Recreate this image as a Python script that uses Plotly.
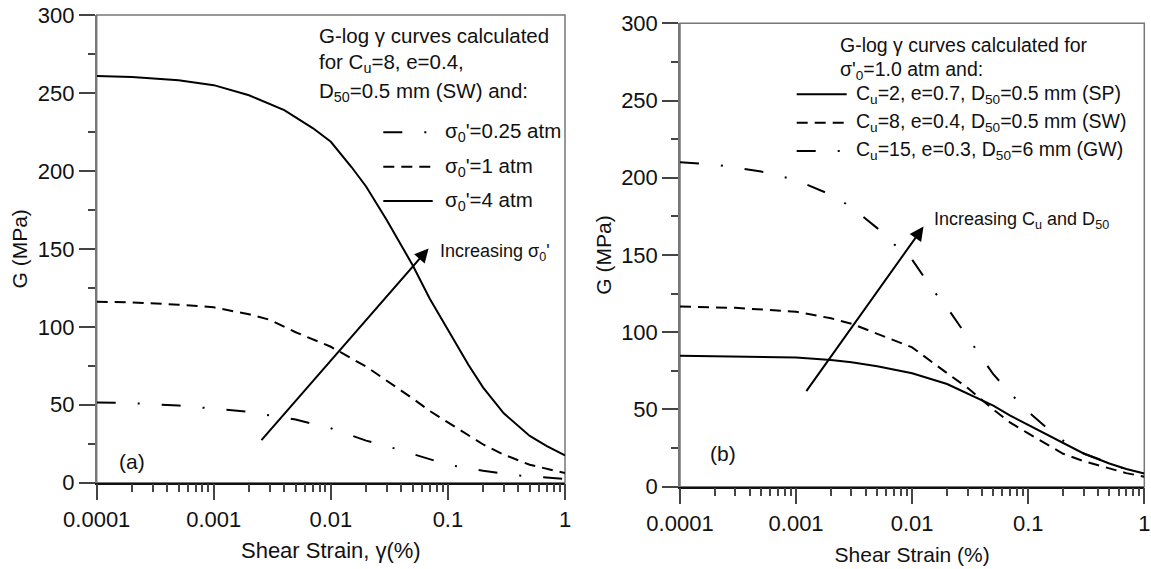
import math
import plotly.graph_objects as go

W, H = 1151, 569
FONT = "Liberation Sans, Arial, sans-serif"

# ---------------- data: panel (a) ----------------
strain_a4 = [0.0001, 0.0002, 0.0005, 0.001, 0.002, 0.004, 0.007, 0.01, 0.015, 0.02,
             0.03, 0.05, 0.07, 0.1, 0.15, 0.2, 0.3, 0.5, 0.7, 1]
G_a4 = [260.9, 260.2, 258.2, 255, 248.5, 239, 227.5, 218.7, 202.5, 190,
        168.5, 139.5, 118, 98, 75.5, 61, 44.5, 30, 23.5, 17.5]

strain_a1 = [0.0001, 0.0002, 0.0005, 0.001, 0.002, 0.003, 0.005, 0.01, 0.02, 0.03,
             0.05, 0.07, 0.1, 0.2, 0.3, 0.5, 1]
G_a1 = [116.1, 115.6, 114.2, 112.5, 108, 104.5, 96.5, 87.2, 74.5, 65.5,
        54, 46, 38.5, 24.5, 18, 11.5, 6.2]

strain_a025 = [0.0001, 0.0002, 0.0005, 0.001, 0.002, 0.003, 0.005, 0.01, 0.02, 0.035,
               0.05, 0.1, 0.2, 0.4, 1]
G_a025 = [51.5, 51, 49.5, 47.7, 45.5, 43.2, 40.5, 34.9, 27, 22,
          18.5, 11.5, 7.6, 4.6, 2.4]

# ---------------- data: panel (b) ----------------
strain_sp = [0.0001, 0.0003, 0.001, 0.002, 0.003, 0.005, 0.01, 0.02, 0.03, 0.05,
             0.07, 0.1, 0.2, 0.3, 0.5, 0.7, 1]
G_sp = [84.8, 84.5, 83.7, 82, 80.5, 78, 73.4, 66.5, 60.5, 52.5,
        46, 40, 28, 21.5, 15, 11.5, 8.6]

strain_sw = [0.0001, 0.0003, 0.001, 0.002, 0.003, 0.005, 0.01, 0.02, 0.03, 0.05,
             0.07, 0.1, 0.2, 0.3, 0.5, 0.7, 1]
G_sw = [116.6, 115.8, 113.3, 109, 105.5, 99, 90.2, 73.5, 64, 50,
        41.5, 34.5, 21.3, 16.5, 11.8, 8.8, 6.5]

strain_gw = [0.0001, 0.0002, 0.0005, 0.001, 0.002, 0.003, 0.005, 0.007, 0.01, 0.015,
             0.02, 0.03, 0.05, 0.07, 0.1, 0.15, 0.2, 0.3, 0.5, 0.7, 1]
G_gw = [210, 208.5, 204, 198.5, 189, 181, 167.4, 157, 147, 127.6,
        116, 97, 72.8, 60.5, 48.5, 37, 29.8, 21.5, 15, 11.2, 9]

# arrows (strain, G) tail -> head
arrow_a = [(0.00249, 26.3), (0.0684, 150.3)]
arrow_b = [(0.0012, 60.9), (0.01253, 168.4)]

x_tickvals = [0.0001, 0.001, 0.01, 0.1, 1]
x_ticktext = ["0.0001", "0.001", "0.01", "0.1", "1"]

DASH = "11px,7px"
DASHDOT = "19px,22px,2px,22px"

labels_a = ["σ<sub>0</sub>'=0.25 atm", "σ<sub>0</sub>'=1 atm", "σ<sub>0</sub>'=4 atm"]
labels_b = ["C<sub>u</sub>=2, e=0.7, D<sub>50</sub>=0.5 mm (SP)",
            "C<sub>u</sub>=8, e=0.4, D<sub>50</sub>=0.5 mm (SW)",
            "C<sub>u</sub>=15, e=0.3, D<sub>50</sub>=6 mm (GW)"]

fig = go.Figure()
line_kw = dict(color="black", width=2)
fig.add_trace(go.Scatter(x=strain_a025, y=G_a025, mode="lines", line=dict(**line_kw, dash=DASHDOT),
                         name=labels_a[0], xaxis="x", yaxis="y", showlegend=False))
fig.add_trace(go.Scatter(x=strain_a1, y=G_a1, mode="lines", line=dict(**line_kw, dash=DASH),
                         name=labels_a[1], xaxis="x", yaxis="y", showlegend=False))
fig.add_trace(go.Scatter(x=strain_a4, y=G_a4, mode="lines", line=dict(**line_kw),
                         name=labels_a[2], xaxis="x", yaxis="y", showlegend=False))
fig.add_trace(go.Scatter(x=strain_sp, y=G_sp, mode="lines", line=dict(**line_kw),
                         name=labels_b[0], xaxis="x2", yaxis="y2", showlegend=False))
fig.add_trace(go.Scatter(x=strain_sw, y=G_sw, mode="lines", line=dict(**line_kw, dash=DASH),
                         name=labels_b[1], xaxis="x2", yaxis="y2", showlegend=False))
fig.add_trace(go.Scatter(x=strain_gw, y=G_gw, mode="lines", line=dict(**line_kw, dash=DASHDOT),
                         name=labels_b[2], xaxis="x2", yaxis="y2", showlegend=False))


def px(x):
    return x / W


def py(y):
    return 1 - y / H


def xaxis_cfg(domain, anchor, title, tsize):
    return dict(
        type="log", range=[-4, 0], domain=domain, anchor=anchor, automargin=False,
        tickmode="array", tickvals=x_tickvals, ticktext=x_ticktext,
        ticks="outside", ticklen=16, tickwidth=1.5, tickcolor="#444",
        showline=True, linecolor="#111", linewidth=1.5, showgrid=False, zeroline=False,
        minor=dict(ticks="outside", ticklen=8, tickwidth=1.5, tickcolor="#444",
                   dtick="D1", showgrid=False),
        tickfont=dict(size=22, color="#111", family=FONT),
        title=dict(text=title, font=dict(size=tsize, color="#111", family=FONT), standoff=12),
    )


def yaxis_cfg(domain, anchor):
    return dict(
        range=[0, 300], domain=domain, anchor=anchor, dtick=50, automargin=False,
        ticks="outside", ticklen=16, tickwidth=1.5, tickcolor="#444",
        showline=True, linecolor="#777", linewidth=1.5, showgrid=False, zeroline=False,
        minor=dict(ticks="outside", ticklen=7, tickwidth=1.5, tickcolor="#444",
                   dtick=25, showgrid=False),
        tickfont=dict(size=22, color="#111", family=FONT),
        title=dict(text="G (MPa)", font=dict(size=21, color="#111", family=FONT), standoff=4),
    )


fig.update_layout(
    width=W, height=H, margin=dict(l=0, r=0, t=0, b=0),
    paper_bgcolor="white", plot_bgcolor="white",
    font=dict(family=FONT, color="#111"),
    showlegend=False,
    xaxis=xaxis_cfg([px(96.7), px(565)], "y", "Shear Strain, γ(%)", 22),
    yaxis=yaxis_cfg([py(482.7), py(15)], "x"),
    xaxis2=xaxis_cfg([px(680), px(1144.3)], "y2", "Shear Strain (%)", 21),
    yaxis2=yaxis_cfg([py(486.7), py(23.3)], "x2"),
)

shapes = []
# frames
for xr, yr in (("x domain", "y domain"), ("x2 domain", "y2 domain")):
    shapes.append(dict(type="rect", xref=xr, yref=yr, x0=0, x1=1, y0=0, y1=1,
                       line=dict(color="#777", width=1.5), layer="below"))

annotations = []


def text_ann(x, y, text, size, xanchor="left"):
    annotations.append(dict(x=px(x), y=py(y), xref="paper", yref="paper", text=text,
                            showarrow=False, xanchor=xanchor, yanchor="middle",
                            font=dict(size=size, color="#111", family=FONT)))


# panel (a) legend block
text_ann(316.7, 35, "G-log γ curves calculated", 20.5)
text_ann(316.7, 63, "for C<sub>u</sub>=8, e=0.4,", 20.5)
text_ann(316.7, 92, "D<sub>50</sub>=0.5 mm (SW) and:", 20.5)
dashes_a = [DASHDOT, DASH, "solid"]
for i, (lab, yy) in enumerate(zip(labels_a, [132.3, 166.7, 201])):
    shapes.append(dict(type="line", xref="paper", yref="paper", x0=px(383.3), x1=px(432.7),
                       y0=py(yy), y1=py(yy), line=dict(color="black", width=2, dash=dashes_a[i])))
    text_ann(442.7, yy, lab, 20.5)

# panel (b) legend block
text_ann(837.7, 45, "G-log γ curves calculated for", 19.5)
text_ann(837.7, 70, "σ'<sub>0</sub>=1.0 atm and:", 19.5)
dashes_b = ["solid", DASH, DASHDOT]
for i, (lab, yy) in enumerate(zip(labels_b, [94.3, 122.7, 151])):
    shapes.append(dict(type="line", xref="paper", yref="paper", x0=px(796.7), x1=px(846.7),
                       y0=py(yy), y1=py(yy), line=dict(color="black", width=2, dash=dashes_b[i])))
    text_ann(854.3, yy, lab, 19.5)

# panel labels
text_ann(116.7, 461.7, "(a)", 21)
text_ann(707.7, 453.3, "(b)", 21)

# arrows
for (tail, head), xr, yr in ((arrow_a, "x", "y"), (arrow_b, "x2", "y2")):
    annotations.append(dict(x=math.log10(head[0]), y=head[1], ax=math.log10(tail[0]), ay=tail[1],
                            xref=xr, yref=yr, axref=xr, ayref=yr, text="", showarrow=True,
                            arrowhead=2, arrowsize=1.4, arrowwidth=2, arrowcolor="black"))

text_ann(438, 252, "Increasing σ<sub>0</sub>'", 18)
text_ann(931.7, 220.7, "Increasing C<sub>u</sub> and D<sub>50</sub>", 18)

fig.update_layout(shapes=shapes, annotations=annotations)
fig.write_html("out.html")
